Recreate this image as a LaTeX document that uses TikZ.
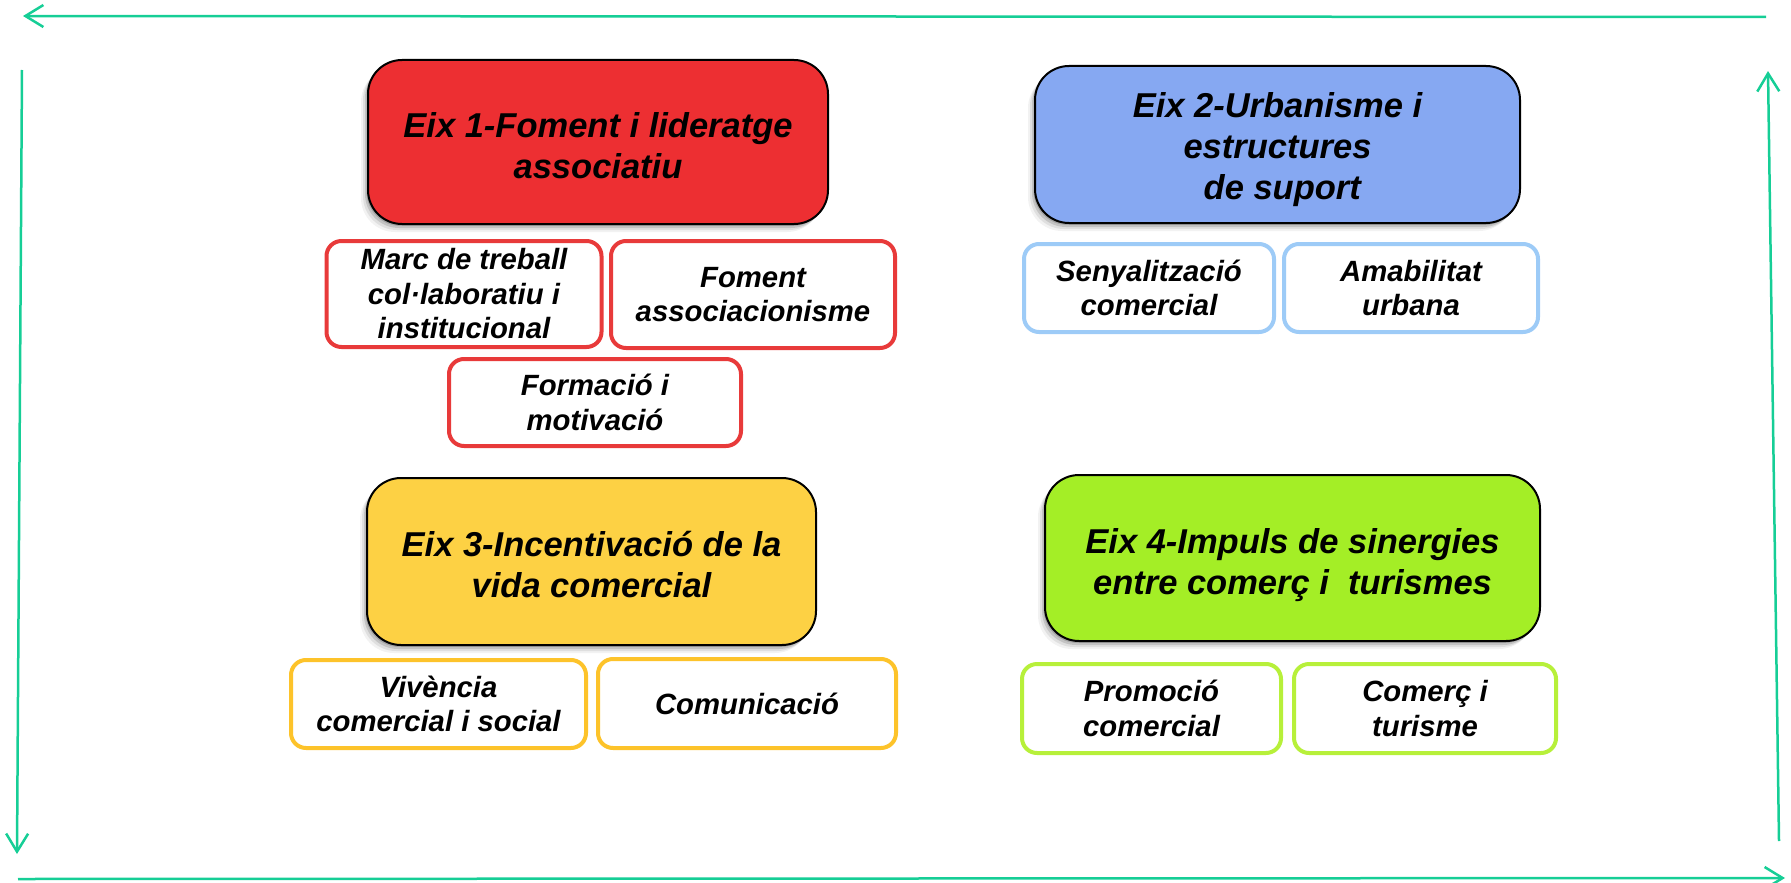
\documentclass[tikz,border=0pt]{standalone}
\usepackage{fontspec}
\setmainfont{Liberation Sans}
\usetikzlibrary{arrows.meta,shadows}
\definecolor{framegreen}{RGB}{22,206,150}
\definecolor{redmain}{RGB}{237,47,50}
\definecolor{bluemain}{RGB}{134,168,242}
\definecolor{yellowmain}{RGB}{253,209,68}
\definecolor{greenmain}{RGB}{164,238,38}
\definecolor{redsub}{RGB}{232,58,58}
\definecolor{bluesub}{RGB}{157,203,247}
\definecolor{yellowsub}{RGB}{253,195,42}
\definecolor{greensub}{RGB}{183,240,58}
\newcommand{\mainsize}{\fontsize{34.5}{41}\selectfont}
\newcommand{\subsize}{\fontsize{29.3}{34.5}\selectfont}
\tikzset{
  mainbox/.style={draw=black, line width=2pt, rounded corners=34pt, inner sep=0pt,
    drop shadow={shadow xshift=-1.5pt, shadow yshift=-2pt, fill=black, opacity=0.16},
    drop shadow={shadow xshift=-3pt, shadow yshift=-4pt, fill=black, opacity=0.12},
    drop shadow={shadow xshift=-5pt, shadow yshift=-6pt, fill=black, opacity=0.08},
    drop shadow={shadow xshift=-7pt, shadow yshift=-8pt, fill=black, opacity=0.05}},
  maintext/.style={align=center, font=\mainsize\bfseries\itshape, inner sep=0pt},
  subbox/.style={draw, fill=white, line width=4pt, rounded corners=15pt, align=center,
    font=\subsize\bfseries\itshape, inner sep=0pt},
  framearrow/.style={draw=framegreen, line width=2.5pt,
    -{Straight Barb[length=18pt, width=22pt, line width=2.5pt]}}
}
\begin{document}
\begin{tikzpicture}[x=1pt,y=-1pt]
\useasboundingbox (0,0) rectangle (1791,883);
% frame
\coordinate (tR) at (1766,17);
\coordinate (tL) at (23,16);
\coordinate (rB) at (1779,841);
\coordinate (rT) at (1768,71);
\coordinate (bL) at (18,879);
\coordinate (bR) at (1785,878);
\coordinate (lT) at (22,70);
\coordinate (lB) at (17,854);
\draw[framearrow] (tR) -- (tL);
\draw[framearrow] (rB) -- (rT);
\draw[framearrow] (bL) -- (bR);
\draw[framearrow] (lT) -- (lB);
% Eix 1
\node[mainbox, fill=redmain, minimum width=460pt, minimum height=164pt] (e1) at (598,142) {};
\node[maintext] (e1t) at ([yshift=-3.5pt]e1.center) {Eix 1-Foment i lideratge\\associatiu};
\node[subbox, draw=redsub, minimum width=275pt, minimum height=106pt] (s11) at (464,294)
  {Marc de treball\\col·laboratiu i\\institucional};
\node[subbox, draw=redsub, minimum width=284pt, minimum height=107pt] (s12) at (753,294.5)
  {Foment\\associacionisme};
\node[subbox, draw=redsub, minimum width=292pt, minimum height=87pt] (s13) at (595,402.5)
  {Formació i\\motivació};
% Eix 2
\node[mainbox, fill=bluemain, minimum width=485pt, minimum height=157pt] (e2) at (1277.5,144.5) {};
\node[maintext] (e2t) at ([yshift=-5pt]e2.center) {Eix 2-Urbanisme i\\estructures\\\ de suport};
\node[subbox, draw=bluesub, minimum width=250pt, minimum height=88pt] (s21) at (1149,288)
  {Senyalització\\comercial};
\node[subbox, draw=bluesub, minimum width=254pt, minimum height=88pt] (s22) at (1411,288)
  {Amabilitat\\urbana};
% Eix 3
\node[mainbox, fill=yellowmain, minimum width=449pt, minimum height=167pt] (e3) at (591.5,561.5) {};
\node[maintext] (e3t) at ([yshift=-3.5pt]e3.center) {Eix 3-Incentivació de la\\vida comercial};
\node[subbox, draw=yellowsub, minimum width=295pt, minimum height=88pt] (s31) at (438.5,704)
  {Vivència\\comercial i social};
\node[subbox, draw=yellowsub, minimum width=298pt, minimum height=89pt] (s32) at (747,703.5)
  {Comunicació};
% Eix 4
\node[mainbox, fill=greenmain, minimum width=495pt, minimum height=166pt] (e4) at (1292.5,558) {};
\node[maintext] (e4t) at ([yshift=-7pt]e4.center) {Eix 4-Impuls de sinergies\\entre comerç i\ \ turismes};
\node[subbox, draw=greensub, minimum width=259pt, minimum height=89pt] (s41) at (1151.5,708.5)
  {Promoció\\comercial};
\node[subbox, draw=greensub, minimum width=262pt, minimum height=89pt] (s42) at (1425,708.5)
  {Comerç i\\turisme};
\end{tikzpicture}
\end{document}
